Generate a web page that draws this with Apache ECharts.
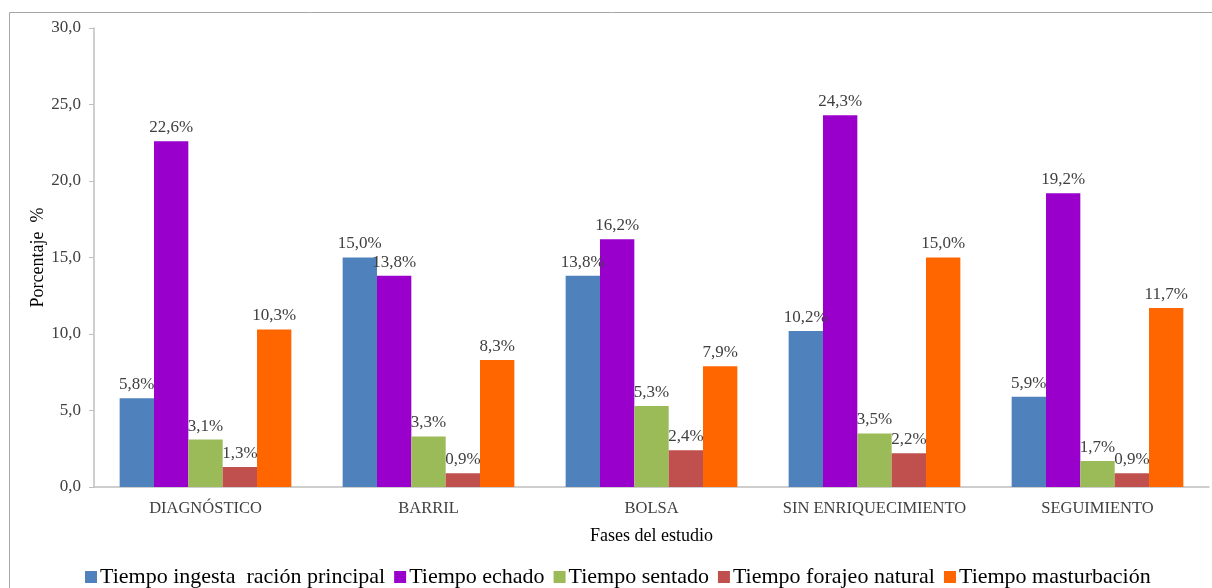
<!DOCTYPE html>
<html>
<head>
<meta charset="utf-8">
<style>
  html, body { margin: 0; padding: 0; background: #fff; }
  #chart { width: 1212px; height: 588px; }
</style>
<script src="https://cdn.jsdelivr.net/npm/echarts@6/dist/echarts.min.js"></script>
</head>
<body>
<div id="chart"></div>
<script>
// Study phases and behaviour percentages
const phases = ['DIAGNÓSTICO', 'BARRIL', 'BOLSA', 'SIN ENRIQUECIMIENTO', 'SEGUIMIENTO'];
const ingesta = [5.8, 15.0, 13.8, 10.2, 5.9];
const echado = [22.6, 13.8, 16.2, 24.3, 19.2];
const sentado = [3.1, 3.3, 5.3, 3.5, 1.7];
const forrajeo = [1.3, 0.9, 2.4, 2.2, 0.9];
const masturbacion = [10.3, 8.3, 7.9, 15.0, 11.7];
const seriesNames = ['Tiempo ingesta  ración principal', 'Tiempo echado', 'Tiempo sentado', 'Tiempo forajeo natural', 'Tiempo masturbación'];
const seriesData = [ingesta, echado, sentado, forrajeo, masturbacion];
const colors = ['#4F81BD', '#9900CC', '#9BBB59', '#C0504D', '#FF6600'];

const serif = '"Liberation Serif", "DejaVu Serif", serif';
const fmt = v => v.toFixed(1).replace('.', ',');

const chart = echarts.init(document.getElementById('chart'));
chart.setOption({
  animation: false,
  textStyle: { fontFamily: serif },
  grid: { left: 94, right: 3, top: 28, bottom: 101, containLabel: false },
  graphic: [{
    type: 'rect',
    shape: { x: 9.5, y: 12.5, width: 1210, height: 600 },
    style: { fill: 'none', stroke: '#A6A6A6', lineWidth: 1 },
    silent: true
  }],
  legend: {
    left: 80, top: 561,
    itemWidth: 12, itemHeight: 12, itemGap: 9,
    icon: 'rect',
    textStyle: { fontFamily: serif, fontSize: 22, color: '#000', padding: [0, 0, 0, -2] },
    data: seriesNames
  },
  xAxis: {
    type: 'category',
    data: phases,
    name: 'Fases del estudio',
    nameLocation: 'middle',
    nameGap: 40,
    nameTextStyle: { fontFamily: serif, fontSize: 18, color: '#000' },
    axisLine: { lineStyle: { color: '#BFBFBF', width: 1.5 } },
    axisTick: { show: false },
    axisLabel: { interval: 0, fontFamily: serif, fontSize: 16.5, color: '#404040', margin: 13 }
  },
  yAxis: {
    type: 'value',
    min: 0, max: 30, interval: 5,
    name: 'Porcentaje  %',
    nameLocation: 'middle',
    nameGap: 47,
    nameMoveOverlap: false,
    nameRotate: 90,
    nameTextStyle: { fontFamily: serif, fontSize: 18, color: '#000' },
    axisLine: { show: true, lineStyle: { color: '#BFBFBF', width: 1.5 } },
    axisTick: { show: true, length: 5, lineStyle: { color: '#BFBFBF' } },
    splitLine: { show: false },
    axisLabel: { fontFamily: serif, fontSize: 17, color: '#404040', margin: 13, formatter: v => fmt(v) }
  },
  series: seriesData.map((d, i) => ({
    name: seriesNames[i],
    type: 'bar',
    data: d,
    barGap: '0%',
    barCategoryGap: '23%',
    itemStyle: { color: colors[i] },
    label: {
      show: true,
      position: 'top',
      distance: 5,
      fontFamily: serif,
      fontSize: 17,
      color: '#404040',
      formatter: p => fmt(p.value) + '%'
    }
  }))
});
</script>
</body>
</html>
